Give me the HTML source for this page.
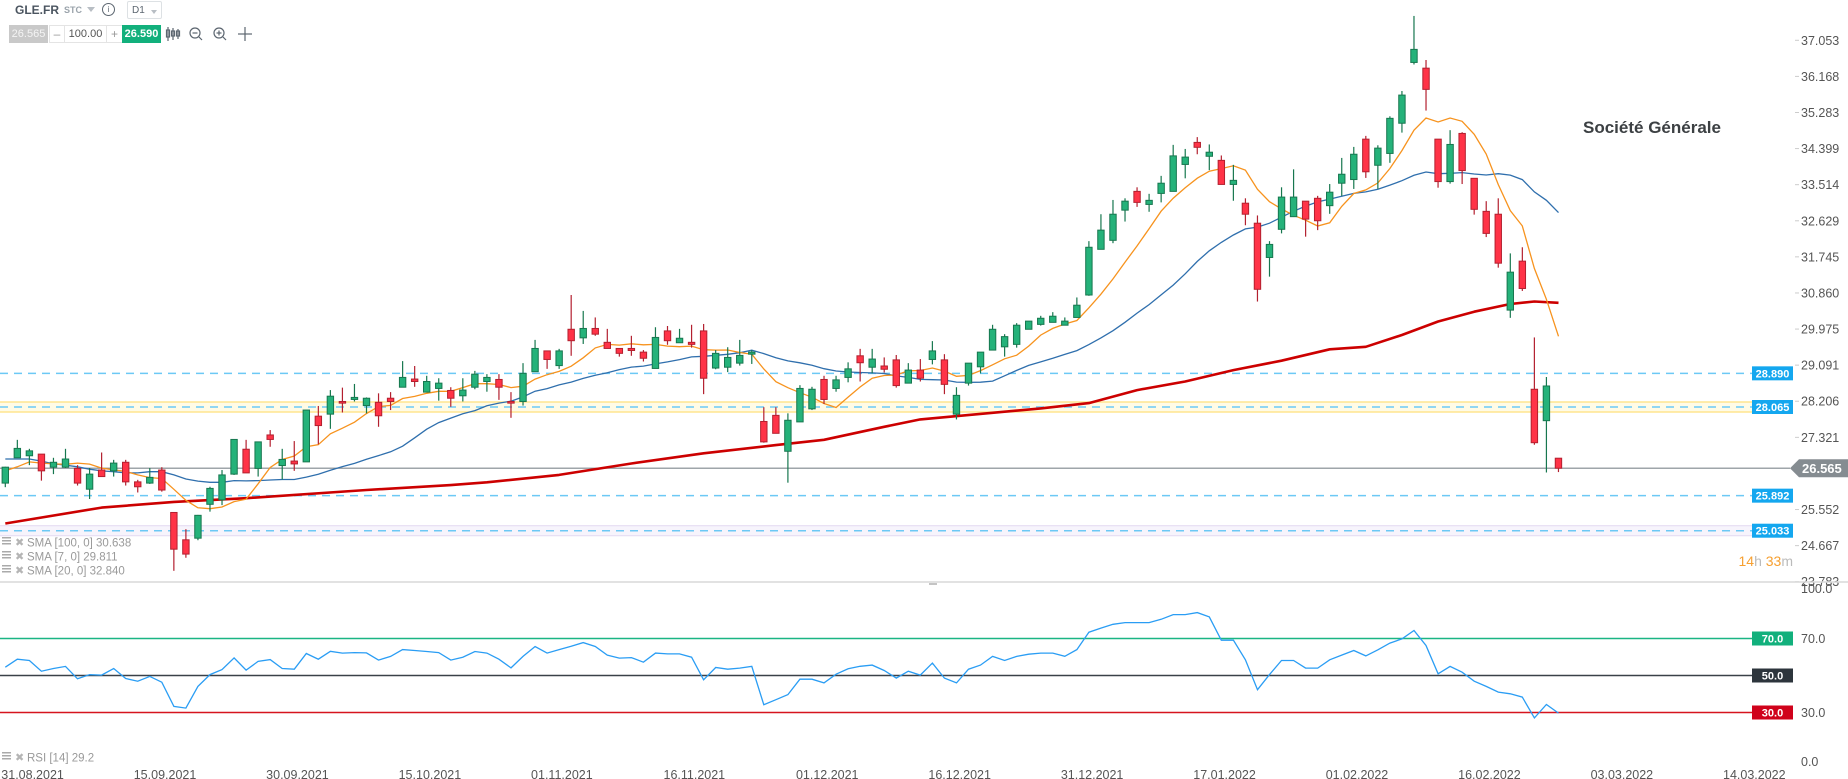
<!DOCTYPE html>
<html><head><meta charset="utf-8">
<style>
html,body{margin:0;padding:0;background:#fff;}
body{width:1848px;height:779px;overflow:hidden;position:relative;font-family:"Liberation Sans",sans-serif;}
svg{position:absolute;left:0;top:0;}
.hdr{position:absolute;font-family:"Liberation Sans",sans-serif;}
</style></head>
<body>
<div class="hdr" style="left:15px;top:3px;font-size:12px;font-weight:bold;color:#4b5560;">GLE.FR</div>
<div class="hdr" style="left:64px;top:5px;font-size:9px;font-weight:bold;color:#9aa3ab;">STC</div>
<div class="hdr" style="left:87px;top:7px;width:0;height:0;border-left:4px solid transparent;border-right:4px solid transparent;border-top:5px solid #b8bec4;"></div>
<div class="hdr" style="left:102px;top:3px;width:11px;height:11px;border:1.3px solid #5c6670;border-radius:50%;font-size:8px;line-height:11px;text-align:center;color:#5c6670;">i</div>
<div class="hdr" style="left:127px;top:1px;width:35px;height:18px;border:1px solid #dde1e4;border-radius:2px;font-size:10px;color:#5c6670;line-height:18px;padding-left:4px;box-sizing:border-box;">D1<span style="position:absolute;left:23px;top:8px;width:0;height:0;border-left:3px solid transparent;border-right:3px solid transparent;border-top:4px solid #b8bec4;"></span></div>
<div class="hdr" style="left:9px;top:25px;width:39px;height:18px;background:#c9c9c9;color:#f4f4f4;font-size:11px;line-height:18px;text-align:center;">26.565</div>
<div class="hdr" style="left:49px;top:25px;width:14px;height:16px;border:1px solid #e4e4e4;color:#999;font-size:12px;line-height:16px;text-align:center;">–</div>
<div class="hdr" style="left:64px;top:25px;width:41px;height:16px;border:1px solid #e4e4e4;color:#555;font-size:11px;line-height:17px;text-align:center;">100.00</div>
<div class="hdr" style="left:106px;top:25px;width:15px;height:16px;border:1px solid #e4e4e4;color:#999;font-size:12px;line-height:16px;text-align:center;">+</div>
<div class="hdr" style="left:122px;top:25px;width:39px;height:18px;background:#12b07c;color:#fff;font-size:11px;font-weight:bold;line-height:18px;text-align:center;">26.590</div>

<svg id="chart" width="1848" height="779" viewBox="0 0 1848 779" xmlns="http://www.w3.org/2000/svg">
  <g stroke="#5c6670" fill="none" stroke-width="1.2">
    <g><line x1="168" y1="27" x2="168" y2="41"/><rect x="166.5" y="30" width="3" height="7"/><line x1="173" y1="28" x2="173" y2="40"/><rect x="171.5" y="31" width="3" height="5"/><line x1="178" y1="29" x2="178" y2="39"/><rect x="176.5" y="31" width="3" height="5"/></g>
    <g><circle cx="195" cy="33" r="5"/><line x1="199" y1="37" x2="202" y2="40"/><line x1="192.5" y1="33" x2="197.5" y2="33"/></g>
    <g><circle cx="219" cy="33" r="5"/><line x1="223" y1="37" x2="226" y2="40"/><line x1="216.5" y1="33" x2="221.5" y2="33"/><line x1="219" y1="30.5" x2="219" y2="35.5"/></g>
    <g><line x1="238" y1="34" x2="252" y2="34"/><line x1="245" y1="27" x2="245" y2="41"/></g>
  </g>
  <g id="plot"></g>
</svg>

<script>
// ===== Data =====
const opens = [26.20,26.82,26.87,26.91,26.59,26.59,26.56,26.05,26.52,26.50,
26.71,26.23,26.20,26.52,25.48,24.81,24.85,25.68,25.79,26.42,
27.03,26.56,27.38,26.63,26.74,26.72,27.84,27.89,28.20,28.25,
28.10,28.18,28.28,28.55,28.75,28.43,28.52,28.47,28.34,28.55,
28.69,28.74,28.20,28.20,28.93,29.44,29.08,29.97,29.76,29.99,
29.65,29.50,29.50,29.41,29.01,29.93,29.64,29.65,29.93,29.02,
29.04,29.14,29.36,27.71,27.86,26.98,27.70,28.02,28.74,28.52,
28.79,29.32,29.04,29.07,29.22,28.65,28.97,29.23,29.22,27.89,
28.65,29.05,29.46,29.54,29.60,29.97,30.09,30.14,30.07,30.26,
30.81,31.93,32.15,32.89,33.35,33.03,33.30,33.35,34.01,34.55,
34.21,34.11,33.52,33.06,32.57,31.73,32.42,32.73,33.11,33.18,
33.00,33.55,33.64,34.63,33.99,34.28,35.02,36.51,36.37,34.63,
33.59,34.77,33.67,32.86,32.79,30.44,31.64,28.50,27.73,26.81];
const highs = [26.60,27.26,27.04,26.91,26.82,27.04,26.64,26.57,26.95,26.77,
26.77,26.28,26.57,26.59,25.49,25.07,25.42,26.11,26.52,27.28,
27.26,27.21,27.50,27.04,27.23,27.99,28.09,28.48,28.54,28.63,
28.30,28.40,28.43,29.19,29.07,28.83,28.77,28.55,28.77,28.95,
28.87,28.87,28.43,29.14,29.71,29.44,29.49,30.81,30.42,30.26,
29.98,29.50,29.81,29.46,30.02,30.05,29.98,30.08,30.10,29.46,
29.53,29.71,29.46,28.06,28.06,27.91,28.60,28.56,28.83,28.83,
29.16,29.49,29.49,29.28,29.34,29.14,29.24,29.68,29.36,28.55,
29.14,29.41,30.08,29.85,30.12,30.17,30.30,30.39,30.26,30.75,
32.13,32.79,33.14,33.18,33.45,33.29,33.73,34.49,34.39,34.68,
34.50,34.23,34.00,33.18,32.76,32.13,33.45,33.89,33.11,33.24,
33.53,34.17,34.44,34.71,34.48,35.19,35.81,37.65,36.57,34.63,
34.85,34.80,33.67,33.11,33.18,31.83,31.98,29.77,28.80,26.81];
const lows = [26.10,26.82,26.64,26.26,26.42,26.57,26.14,25.81,26.35,26.36,
26.14,25.97,26.18,25.99,24.05,24.37,24.80,25.50,25.66,26.40,
26.45,26.36,27.09,26.29,26.50,26.72,27.15,27.53,27.93,28.20,
27.91,27.58,27.99,28.55,28.56,28.43,28.22,28.07,28.20,28.50,
28.44,28.24,27.80,28.10,28.93,29.00,29.00,29.32,29.61,29.81,
29.50,29.30,29.32,29.18,29.01,29.59,29.64,29.52,28.38,28.99,
28.92,29.08,29.12,27.19,27.42,26.21,27.70,27.99,28.14,28.44,
28.67,28.69,28.89,28.91,28.54,28.65,28.69,29.11,28.38,27.76,
28.59,28.89,29.46,29.30,29.52,29.97,30.06,30.14,30.07,30.26,
30.79,31.93,32.08,32.61,32.97,32.85,33.08,33.35,33.67,34.26,
33.87,33.52,33.12,32.52,30.65,31.26,32.32,32.73,32.24,32.40,
32.80,33.24,33.41,33.68,33.41,34.05,34.79,36.46,35.33,33.44,
33.54,33.53,32.78,32.23,31.48,30.25,30.91,27.14,26.46,26.47];
const closes = [26.59,27.05,26.99,26.50,26.71,26.79,26.20,26.42,26.36,26.69,
26.23,26.11,26.34,26.03,24.58,24.46,25.41,26.07,26.40,27.27,
26.45,27.21,27.27,26.78,26.67,27.99,27.61,28.33,28.16,28.30,
28.28,27.85,28.20,28.79,28.69,28.69,28.65,28.28,28.48,28.87,
28.79,28.55,28.16,28.89,29.50,29.23,29.44,29.69,29.99,29.85,
29.50,29.38,29.45,29.26,29.77,29.69,29.75,29.60,28.77,29.38,
29.28,29.33,29.41,27.21,27.42,27.74,28.52,28.50,28.25,28.73,
29.00,29.15,29.24,28.99,28.59,28.97,28.77,29.44,28.62,28.35,
29.14,29.41,29.97,29.79,30.07,30.17,30.24,30.29,30.17,30.56,
31.98,32.40,32.79,33.11,33.08,33.13,33.55,34.22,34.19,34.43,
34.31,33.52,33.62,32.79,30.95,32.05,33.21,33.21,32.67,32.63,
33.33,33.77,34.26,33.83,34.41,35.14,35.71,36.83,35.85,33.59,
34.50,33.86,32.91,32.32,31.59,31.37,30.97,27.19,28.58,26.565];
const sma7Early = [26.50,26.60,26.72,26.69,26.67,26.66];
const sma20Early = [26.79,26.79,26.79,26.74,26.67,26.64,26.60,26.54,26.50,26.48,26.45,26.45,26.48,26.48,26.40,26.30,26.25,26.22,26.22];
const sma100Idx = [0,8,14,20,30,37,40,46,52,58,64,68,73,76,86,90,94,98,102,106,110,113,116,119,122,125,127,129];
const sma100Val = [25.21,25.60,25.74,25.83,26.03,26.15,26.22,26.40,26.68,26.93,27.13,27.26,27.58,27.76,28.03,28.16,28.48,28.69,28.97,29.20,29.48,29.54,29.83,30.16,30.40,30.59,30.65,30.62];
const rsi = [54.5,58.8,58.1,52.3,53.8,54.9,48.2,50.5,50.2,53.8,
48.4,46.9,49.5,46.4,33.3,32.4,44.1,50.5,53.2,59.5,
52.9,57.6,58.6,53.8,53.4,61.9,58.8,63.1,62.1,62.4,
62.2,58.3,60.3,64.0,63.5,63.0,62.4,58.3,59.9,63.0,
62.1,58.8,54.1,60.3,65.7,62.1,64.0,65.8,67.8,65.7,
61.0,59.4,59.7,57.2,62.1,61.7,61.7,59.9,47.7,54.3,
53.4,54.0,54.9,34.2,36.9,39.7,48.0,48.0,46.0,50.7,
53.6,55.0,55.6,52.7,48.6,52.3,50.2,56.7,48.6,46.0,
53.4,55.6,60.3,58.1,60.3,61.5,62.1,62.1,60.4,64.0,
73.4,75.6,77.7,78.6,78.6,78.6,80.4,82.9,82.9,84.0,
81.7,69.1,69.1,58.5,42.3,50.5,58.1,58.1,54.0,54.0,
58.5,61.0,63.5,60.6,63.9,67.5,69.8,74.3,66.2,50.9,
54.9,51.8,46.9,44.1,41.0,40.1,38.3,27.1,34.3,29.7];
const priceTicks = [37.053,36.168,35.283,34.399,33.514,32.629,31.745,30.860,29.975,29.091,28.206,27.321,25.552,24.667,23.783];
const rsiTicks = [100,70,30,0];
const dateLabels = ["31.08.2021","15.09.2021","30.09.2021","15.10.2021","01.11.2021","16.11.2021","01.12.2021","16.12.2021","31.12.2021","17.01.2022","01.02.2022","16.02.2022","03.03.2022","14.03.2022"];
const dateIdx = [0,11,22,33,44,55,66,77,88,99,110,121,132,143];
const levels = [28.890,28.065,25.892,25.033];
const currentPrice = 26.565;

// ===== Axes =====
const NS = "http://www.w3.org/2000/svg";
const X0 = 5.3, STEP = 12.04;
function xAt(i){ return X0 + STEP*i; }
function yP(v){ return 407 + (28.065 - v)*40.8; }
function yR(r){ return 675.5 - (r-50)*1.85; }
const plot = document.getElementById('plot');
function mk(tag, attrs, parent){
  const e = document.createElementNS(NS, tag);
  for (const k in attrs) e.setAttribute(k, attrs[k]);
  (parent||plot).appendChild(e);
  return e;
}
const RIGHT = 1793;

const band1 = mk('rect',{x:0,y:yP(28.065)-5,width:RIGHT,height:10,fill:'#fffbe6'});


mk('line',{x1:0,x2:RIGHT,y1:yP(28.065)-5,y2:yP(28.065)-5,stroke:'#ffe58f','stroke-width':1.5});
mk('line',{x1:0,x2:RIGHT,y1:yP(28.065)+5,y2:yP(28.065)+5,stroke:'#ffe58f','stroke-width':1.5});
const band2 = mk('rect',{x:0,y:yP(25.033)-5,width:RIGHT,height:10,fill:'#f7f4fc'});


mk('line',{x1:0,x2:RIGHT,y1:yP(25.033)-5,y2:yP(25.033)-5,stroke:'#e6ddf3','stroke-width':1.2});
mk('line',{x1:0,x2:RIGHT,y1:yP(25.033)+5,y2:yP(25.033)+5,stroke:'#e6ddf3','stroke-width':1.2});

levels.forEach(function(v){
  const l = mk('line',{x1:0,x2:1752,y1:yP(v),y2:yP(v),stroke:'#6cc9f5','stroke-width':1.5,'stroke-dasharray':'8,6'});
  
  
  const b = mk('rect',{x:1752,y:yP(v)-7,width:41,height:14,fill:'#14a7ef'});
  
  
  const t = mk('text',{x:1772.5,y:yP(v)+4,'font-size':11,'font-weight':'bold',fill:'#fff','text-anchor':'middle','font-family':'Liberation Sans, sans-serif'});
  t.textContent = v.toFixed(3);
  
  
});

const cur = mk('line',{x1:0,x2:1790,y1:yP(currentPrice),y2:yP(currentPrice),stroke:'#7f878d','stroke-width':1.2});



(function(){
  let d='';
  sma100Idx.forEach(function(ix,k){ d += (k?'L':'M')+xAt(ix).toFixed(1)+','+yP(sma100Val[k]).toFixed(1); });
  const p = mk('path',{d:d,fill:'none',stroke:'#cc0000','stroke-width':2.6,'stroke-linejoin':'round'});
  
  
})();

function smaSeries(n, early){
  const out=[];
  for(let i=0;i<closes.length;i++){
    if(i<n-1){ out.push(early[i]); continue; }
    let s=0; for(let k=i-n+1;k<=i;k++) s+=closes[k];
    out.push(s/n);
  }
  return out;
}
function linePath(vals, yf){
  let d=''; vals.forEach(function(v,i){ d+=(i?'L':'M')+xAt(i).toFixed(1)+','+yf(v).toFixed(1); }); return d;
}
const s20 = mk('path',{d:linePath(smaSeries(20,sma20Early),yP),fill:'none',stroke:'#2f6fad','stroke-width':1.3});


const s7 = mk('path',{d:linePath(smaSeries(7,sma7Early),yP),fill:'none',stroke:'#f7931e','stroke-width':1.3});



for(let i=0;i<closes.length;i++){
  const up = closes[i]>=opens[i];
  const edge = up ? '#17774f' : '#b3202f';
  const fill = up ? '#25b27a' : '#ff3347';
  const g = mk('g',{});
  
  
  const x = xAt(i);
  mk('line',{x1:x,x2:x,y1:yP(highs[i]),y2:yP(lows[i]),stroke:edge,'stroke-width':1.2},g);
  const top = yP(Math.max(opens[i],closes[i])), bot = yP(Math.min(opens[i],closes[i]));
  mk('rect',{x:x-3.2,y:top,width:6.4,height:Math.max(1,bot-top),fill:fill,stroke:edge,'stroke-width':1},g);
}

priceTicks.forEach(function(v){
  mk('line',{x1:1795,x2:1799,y1:yP(v),y2:yP(v),stroke:'#ccc'});
  const t = mk('text',{x:1801,y:yP(v)+4.5,'font-size':12.5,fill:'#555','font-family':'Liberation Sans, sans-serif'});
  t.textContent = v.toFixed(3);
  
  
});
(function(){
  const y=yP(currentPrice);
  const p = mk('path',{d:'M1790,'+y+' L1799,'+(y-9)+' L1848,'+(y-9)+' L1848,'+(y+9)+' L1799,'+(y+9)+' Z',fill:'#858c91'});
  
  
  const t = mk('text',{x:1802,y:y+5,'font-size':13,'font-weight':'bold',fill:'#fff','font-family':'Liberation Sans, sans-serif'});
  t.textContent = currentPrice.toFixed(3);
  
  
})();

const sep = mk('line',{x1:0,x2:1848,y1:582,y2:582,stroke:'#d9d9d9','stroke-width':1.5});


mk('line',{x1:929,x2:937,y1:584,y2:584,stroke:'#888','stroke-width':1});

[[70,'#1ab584','#12b07c'],[50,'#3a4148','#2d353c'],[30,'#d6141e','#d0021b']].forEach(function(a){
  const l = mk('line',{x1:0,x2:1752,y1:yR(a[0]),y2:yR(a[0]),stroke:a[1],'stroke-width':1.4});
  
  
  mk('rect',{x:1752,y:yR(a[0])-7,width:41,height:14,fill:a[2]});
  const t = mk('text',{x:1772.5,y:yR(a[0])+4,'font-size':11,'font-weight':'bold',fill:'#fff','text-anchor':'middle','font-family':'Liberation Sans, sans-serif'});
  t.textContent = a[0].toFixed(1);
  
  
});
const rl = mk('path',{d:linePath(rsi,yR),fill:'none',stroke:'#2a9df4','stroke-width':1.3});


rsiTicks.forEach(function(r){
  let y = yR(r)+4.5;
  if(r===100) y = 593; if(r===0) y = 766;
  const t = mk('text',{x:1801,y:y,'font-size':12.5,fill:'#555','font-family':'Liberation Sans, sans-serif'});
  t.textContent = r.toFixed(1);
  
  
});

dateLabels.forEach(function(s,k){
  const t = mk('text',{x:xAt(dateIdx[k])-4,y:779,'font-size':12.5,fill:'#555','font-family':'Liberation Sans, sans-serif'});
  t.textContent = s;
  
  
});

const title = mk('text',{x:1583,y:133,'font-size':17,'font-weight':'bold',fill:'#3c4043','font-family':'Liberation Sans, sans-serif'});
title.textContent = 'Société Générale';



(function(){
  const t = mk('text',{x:1793,y:566,'font-size':14,'text-anchor':'end','font-family':'Liberation Sans, sans-serif'});
  
  
  [['14','#f7a031'],['h ','#bbb'],['33','#f7a031'],['m','#bbb']].forEach(function(p){
    const s = mk('tspan',{fill:p[1]},t); s.textContent=p[0];
  });
})();

function legend(y, txt, name){
  const g = mk('g',{});
  
  
  mk('rect',{x:2,y:y-5,width:9,height:1.5,fill:'#aaa'},g);
  mk('rect',{x:2,y:y-2,width:9,height:1.5,fill:'#aaa'},g);
  mk('rect',{x:2,y:y+1,width:9,height:1.5,fill:'#aaa'},g);
  const x = mk('text',{x:15,y:y+4,'font-size':11,'font-weight':'bold',fill:'#b5b5b5','font-family':'DejaVu Sans, sans-serif'},g);
  x.textContent='✖';
  const t = mk('text',{x:27,y:y+4.5,'font-size':11.5,fill:'#9a9a9a','font-family':'Liberation Sans, sans-serif'},g);
  t.textContent = txt;
}
legend(542,'SMA [100, 0] 30.638','legend-sma-100');
legend(556,'SMA [7, 0] 29.811','legend-sma-7');
legend(570,'SMA [20, 0] 32.840','legend-sma-20');
legend(757,'RSI [14] 29.2','legend-rsi');
</script>
</body></html>
